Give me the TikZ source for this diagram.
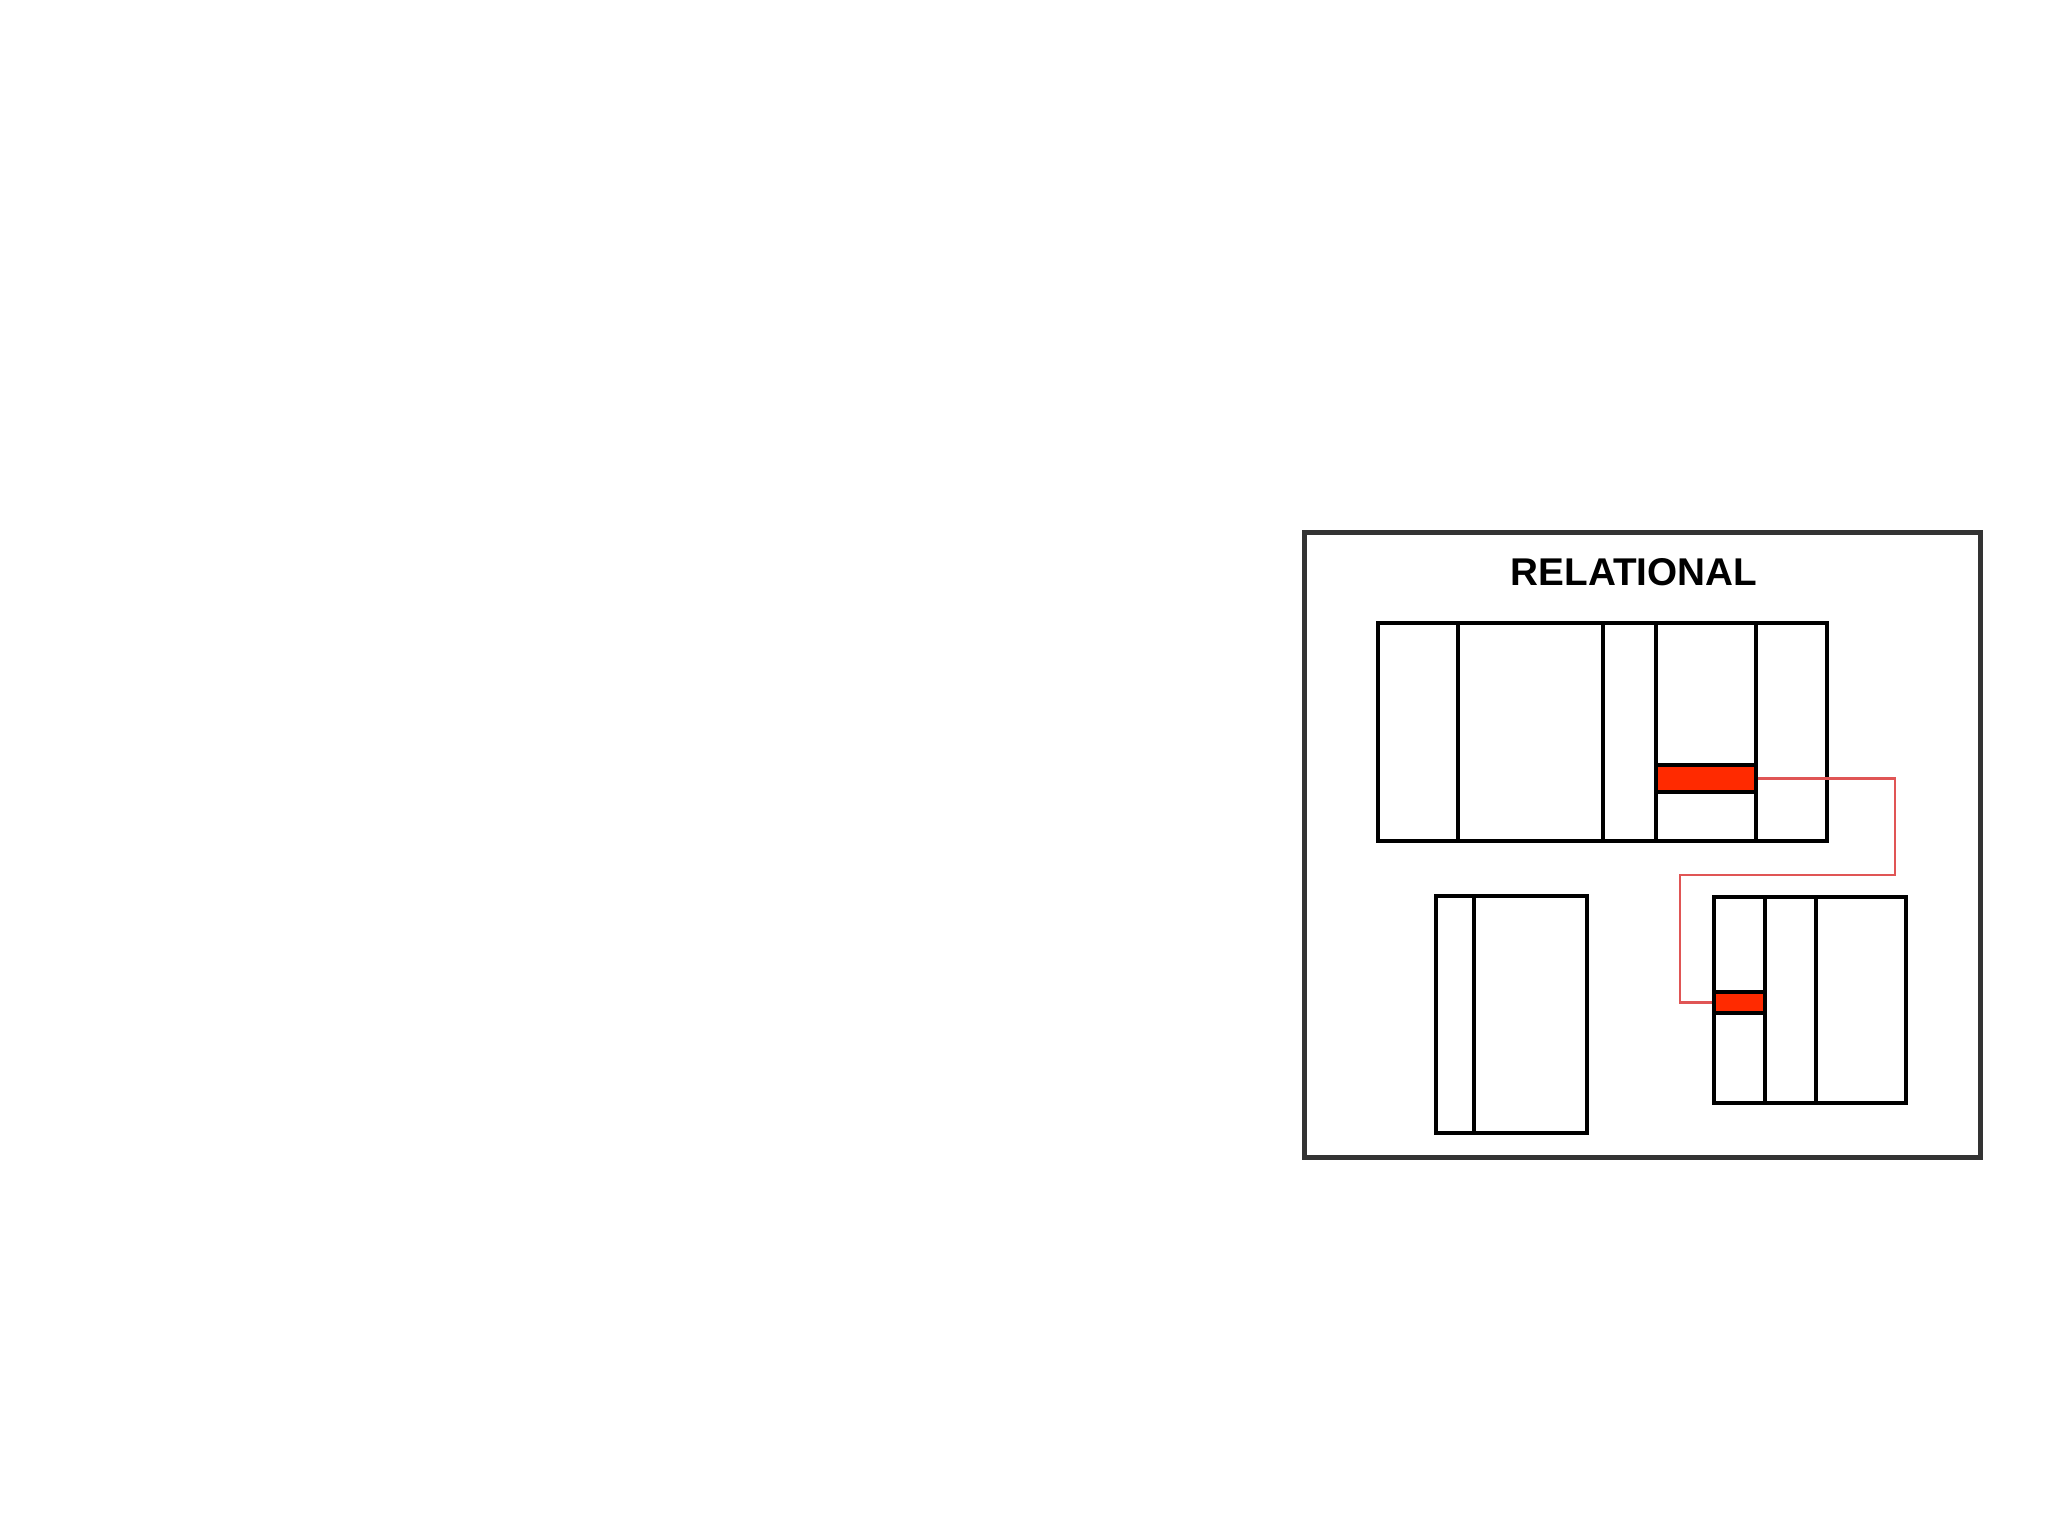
\documentclass[tikz,border=0pt]{standalone}
\usepackage{fontspec}
\setmainfont{Liberation Sans}
\begin{document}
\begin{tikzpicture}[x=0.01cm,y=-0.01cm,
  frame/.style={draw=black!80, line width=1.4pt, inner sep=0pt},
  tbl/.style={draw=black, line width=1.15pt, inner sep=0pt},
  divider/.style={draw=black, line width=1.15pt},
  keycell/.style={draw=black, line width=1.15pt, fill=keyred, inner sep=0pt},
  link/.style={draw=linkred, line width=0.6pt}]
\definecolor{keyred}{HTML}{FF2A00}
\definecolor{linkred}{HTML}{E05555}
\useasboundingbox (0,0) rectangle (2048,1536);
% outer frame
\node[frame, minimum width=6.75cm, minimum height=6.24cm] (outer) at (1642.5,845) {};
\node[font=\bfseries\fontsize{11pt}{13pt}\selectfont] (title) at (1634,572) {RELATIONAL};
% top table
\node[tbl, minimum width=4.49cm, minimum height=2.18cm] (t1) at (1602.5,732) {};
\foreach \x in {1458,1603,1656,1756} \draw[divider] (\x,623) -- (\x,841);
\node[keycell, minimum width=1.0cm, minimum height=0.27cm] (k1) at (1706,778.5) {};
% bottom-left table
\node[tbl, minimum width=1.51cm, minimum height=2.37cm] (t2) at (1511.5,1014.5) {};
\draw[divider] (1474,896) -- (1474,1133);
% bottom-right table
\node[tbl, minimum width=1.92cm, minimum height=2.06cm] (t3) at (1810,1000) {};
\foreach \x in {1765,1816} \draw[divider] (\x,897) -- (\x,1103);
\node[keycell, minimum width=0.51cm, minimum height=0.21cm] (k2) at (1739.5,1002.5) {};
% link
\coordinate (b1) at (1895,778.5);
\coordinate (b2) at (1895,875);
\coordinate (b3) at (1680,875);
\coordinate (b4) at (1680,1002.5);
\draw[link] (k1.east) -- (b1) -- (b2) -- (b3) -- (b4) -- (k2.west);
\end{tikzpicture}
\end{document}
